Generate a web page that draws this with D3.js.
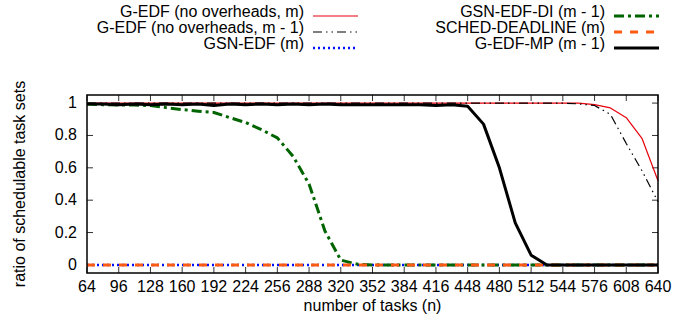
<!DOCTYPE html>
<html lang="en">
<head>
    <meta charset="UTF-8">
    <title>Schedulability</title>
    <script src="https://d3js.org/d3.v7.min.js"></script>
    <style>
        body { margin: 0; background: #fff; }
        svg { font-family: "Liberation Sans", Arial, sans-serif; font-size: 16px; }
        .frame { fill: none; stroke: #000; stroke-width: 1.5px; }
        .tick-mark { stroke: #333; stroke-width: 1px; }
        .series { fill: none; stroke-linejoin: round; }
    </style>
</head>
<body>
    <svg id="svg" width="694" height="320"></svg>
    <script>
        // number of tasks, step 16
        const tasks = d3.range(64, 641, 16);
        const xTicks = d3.range(64, 641, 32);
        const yTicks = [0, 0.2, 0.4, 0.6, 0.8, 1];

        // 37 points each (64..640)
        const gedf = [1, 1, 1, 1, 1, 1, 1, 1, 1, 1, 1, 1, 1, 1, 1, 1, 1, 1, 1, 1, 1, 1, 1, 1, 1, 1, 1, 1, 1, 1, 1, 1, 0.99, 0.97, 0.91, 0.78, 0.52];
        const gedfM1 = [1, 1, 1, 1, 1, 1, 1, 1, 1, 1, 1, 1, 1, 1, 1, 1, 1, 1, 1, 1, 1, 1, 1, 1, 1, 1, 1, 1, 1, 1, 1, 0.995, 0.985, 0.93, 0.75, 0.58, 0.39];
        const gsnEdf = [0, 0, 0, 0, 0, 0, 0, 0, 0, 0, 0, 0, 0, 0, 0, 0, 0, 0, 0, 0, 0, 0, 0, 0, 0, 0, 0, 0, 0, 0, 0, 0, 0, 0, 0, 0, 0];
        const gsnEdfDi = [0.995, 0.99, 0.988, 0.988, 0.985, 0.972, 0.96, 0.95, 0.942, 0.91, 0.88, 0.836, 0.785, 0.67, 0.5, 0.21, 0.03, 0.005, 0, 0, 0, 0, 0, 0, 0, 0, 0, 0, 0, 0, 0, 0, 0, 0, 0, 0, 0];
        const schedDeadline = [0, 0, 0, 0, 0, 0, 0, 0, 0, 0, 0, 0, 0, 0, 0, 0, 0, 0, 0, 0, 0, 0, 0, 0, 0, 0, 0, 0, 0, 0, 0, 0, 0, 0, 0, 0, 0];
        const gedfMp = [0.995, 0.995, 0.99, 0.995, 0.99, 0.995, 0.99, 0.995, 0.985, 0.995, 0.99, 0.995, 0.99, 0.995, 0.99, 0.995, 0.99, 0.99, 0.99, 0.99, 0.99, 0.99, 0.985, 0.99, 0.98, 0.87, 0.6, 0.26, 0.06, 0, 0, 0, 0, 0, 0, 0, 0];

        const series = [
            {name: "G-EDF (no overheads, m)", values: gedf, color: "#e8000b", width: 1.2, dash: null, col: 0, row: 0},
            {name: "G-EDF (no overheads, m - 1)", values: gedfM1, color: "#000", width: 1.2, dash: "9,4,1.5,4,1.5,4", col: 0, row: 1},
            {name: "GSN-EDF (m)", values: gsnEdf, color: "#0010ff", width: 2.5, dash: "2,3", col: 0, row: 2},
            {name: "GSN-EDF-DI (m - 1)", values: gsnEdfDi, color: "#006400", width: 3, dash: "10,4,3,4", col: 1, row: 0},
            {name: "SCHED-DEADLINE (m)", values: schedDeadline, color: "#ff5a14", width: 3, dash: "8,8", col: 1, row: 1},
            {name: "G-EDF-MP (m - 1)", values: gedfMp, color: "#000", width: 3, dash: null, col: 1, row: 2}
        ];

        const margin = {left: 87, right: 36, top: 95, bottom: 47};
        const width = 694, height = 320;
        const svg = d3.select("#svg");

        const x = d3.scaleLinear().domain([64, 640]).range([margin.left, width - margin.right]);
        const y = d3.scaleLinear().domain([-0.05, 1.05]).range([height - margin.bottom, margin.top]);

        const x0 = x.range()[0], x1 = x.range()[1];
        const y0 = y.range()[0], y1 = y.range()[1];
        const tl = 6;

        // ticks (inward, mirrored)
        const ticks = svg.append("g");
        xTicks.forEach(t => {
            ticks.append("line").attr("class", "tick-mark")
                .attr("x1", x(t)).attr("x2", x(t)).attr("y1", y0).attr("y2", y0 - tl);
            ticks.append("line").attr("class", "tick-mark")
                .attr("x1", x(t)).attr("x2", x(t)).attr("y1", y1).attr("y2", y1 + tl);
            ticks.append("text").attr("x", x(t)).attr("y", y0 + 19)
                .attr("text-anchor", "middle").text(t);
        });
        yTicks.forEach(t => {
            ticks.append("line").attr("class", "tick-mark")
                .attr("x1", x0).attr("x2", x0 + tl).attr("y1", y(t)).attr("y2", y(t));
            ticks.append("line").attr("class", "tick-mark")
                .attr("x1", x1).attr("x2", x1 - tl).attr("y1", y(t)).attr("y2", y(t));
            ticks.append("text").attr("x", x0 - 10).attr("y", y(t) + 5)
                .attr("text-anchor", "end").text(t);
        });

        // lines
        const line = d3.line()
            .x((d, i) => x(tasks[i]))
            .y(d => y(d));

        svg.append("g").selectAll("path")
            .data(series)
            .enter().append("path")
            .attr("class", "series")
            .attr("d", d => line(d.values))
            .attr("stroke", d => d.color)
            .attr("stroke-width", d => d.width)
            .attr("stroke-dasharray", d => d.dash);

        svg.append("rect").attr("class", "frame")
            .attr("x", x0).attr("y", y1)
            .attr("width", x1 - x0).attr("height", y0 - y1);

        // axis titles
        svg.append("text")
            .attr("x", (x0 + x1) / 2).attr("y", 311)
            .attr("text-anchor", "middle")
            .text("number of tasks (n)");
        svg.append("text")
            .attr("transform", `translate(25,${(y0 + y1) / 2}) rotate(-90)`)
            .attr("text-anchor", "middle")
            .text("ratio of schedulable task sets");

        // legend
        const legCols = [{textX: 304, lineX: 313}, {textX: 605, lineX: 614}];
        const legend = svg.append("g");
        series.forEach(s => {
            const c = legCols[s.col];
            const by = 17 + s.row * 16;
            legend.append("text").attr("x", c.textX).attr("y", by)
                .attr("text-anchor", "end").text(s.name);
            legend.append("line")
                .attr("x1", c.lineX).attr("x2", c.lineX + 45)
                .attr("y1", by - 1).attr("y2", by - 1)
                .attr("stroke", s.color)
                .attr("stroke-width", s.width)
                .attr("stroke-dasharray", s.dash);
        });
    </script>
</body>
</html>
